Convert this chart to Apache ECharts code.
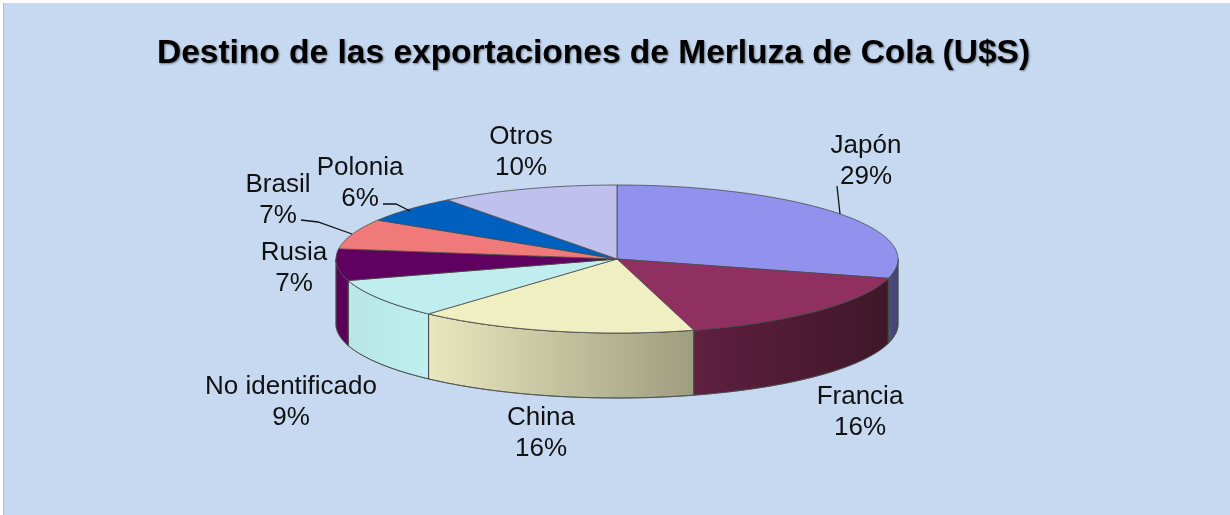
<!DOCTYPE html>
<html><head><meta charset="utf-8">
<style>html,body{margin:0;padding:0;background:#fff}#c{width:1230px;height:515px}</style>
<script src="https://cdn.jsdelivr.net/npm/echarts@6/dist/echarts.min.js"></script>
</head><body><div id="c"></div>
<script>
const chartTitle = 'Destino de las exportaciones de Merluza de Cola (U$S)';
const categories = ['Japón','Francia','China','No identificado','Rusia','Brasil','Polonia','Otros'];
const values = [29.2,16.4,16.1,8.6,6.9,6.6,5.9,10.3];

// styling and layout, separate from the data
const topColors = ['#9191EE','#8F3060','#F0EFC2','#C0EEEE','#600060','#F07A7A','#0060C0','#C0C0EE'];
const wallColors = [['#4C4C80','#44446E'],['#601F40','#3E1728'],['#E8E7BE','#9E9E80'],['#B8E6E6','#BEEEEE'],['#5A005A','#5A005A'],['#F07A7A','#F07A7A'],['#0060C0','#0060C0'],['#C0C0EE','#C0C0EE']];
const labelCenters = [[866,161],[860,412],[541,433],[291,402],[294,268],[278,200],[360,183],[521,152]];
const leaders = {0:[[837,186],[840,214]],5:[[301,220],[318,222],[352,234]],6:[[383,204],[396,204],[410,211]]};
const pie = {cx:617, cy:259, rx:281, ry:74, depth:65};

const total = values.reduce((a,b)=>a+b,0);
const starts = []; { let s=0; for(const v of values){ starts.push(s); s+=v; } }
const angleOf = p => p/total*2*Math.PI;
const pt = (t,dy=0)=>[pie.cx+pie.rx*Math.sin(t), pie.cy-pie.ry*Math.cos(t)+dy];
function arc(a,b,dy){ const n=Math.max(2,Math.ceil((b-a)/0.01)); const out=[]; for(let i=0;i<=n;i++) out.push(pt(a+(b-a)*i/n,dy)); return out; }

function renderItem(params, api){
  const i = params.dataIndex, v = api.value(0);
  const a = angleOf(starts[i]), b = angleOf(starts[i]+v);
  const children = [];
  const ca = Math.max(a,Math.PI/2), cb = Math.min(b,Math.PI*1.5);
  if (cb>ca){
    const top = arc(ca,cb,0), bottom = arc(ca,cb,pie.depth).reverse();
    const x0 = Math.min(pt(ca)[0],pt(cb)[0]), x1 = Math.max(pt(ca)[0],pt(cb)[0]);
    children.push({type:'polygon', z2:1, shape:{points:top.concat(bottom)}, style:{
      fill:{type:'linear',x:x0,y:0,x2:x1,y2:0,global:true,colorStops:[{offset:0,color:wallColors[i][0]},{offset:1,color:wallColors[i][1]}]},
      stroke:'#4a4a4a',lineWidth:0.8}});
  }
  children.push({type:'polygon', z2:2, shape:{points:[[pie.cx,pie.cy]].concat(arc(a,b,0))}, style:{fill:topColors[i],stroke:'#4a4a4a',lineWidth:0.8}});
  if (leaders[i]) children.push({type:'polyline', z2:3, shape:{points:leaders[i]}, style:{fill:null,stroke:'#111',lineWidth:1.3}});
  children.push({type:'text', z2:4, x:labelCenters[i][0], y:labelCenters[i][1], style:{
    text:categories[i]+'\n'+Math.round(v)+'%', align:'center', verticalAlign:'middle',
    font:'26px "Liberation Sans", Arial, sans-serif', lineHeight:31, fill:'#111'}});
  return {type:'group', children};
}

const chart = echarts.init(document.getElementById('c'),null,{renderer:'canvas'});
chart.setOption({
  animation:false,
  backgroundColor:'#fff',
  graphic:[
    {type:'rect',z:-10,silent:true,shape:{x:3,y:3,width:1227,height:512},style:{fill:'#C6D9F1'}},
    {type:'line',z:-9,silent:true,shape:{x1:3.5,y1:3,x2:3.5,y2:515},style:{stroke:'#B8BCC4',lineWidth:1}}
  ],
  title:{text:chartTitle,left:593.5,top:32,textAlign:'center',textStyle:{
    fontFamily:'"Liberation Sans", Arial, sans-serif',fontWeight:'bold',fontSize:33.5,color:'#000',
    textShadowColor:'rgba(0,0,0,0.45)',textShadowBlur:2,textShadowOffsetX:1,textShadowOffsetY:1}},
  series:[{type:'custom',coordinateSystem:'none',renderItem,silent:true,
    data:values.map((v,i)=>({name:categories[i],value:[v]}))}]
});
chart.setOption({title:{left:588.5}});
</script></body></html>
